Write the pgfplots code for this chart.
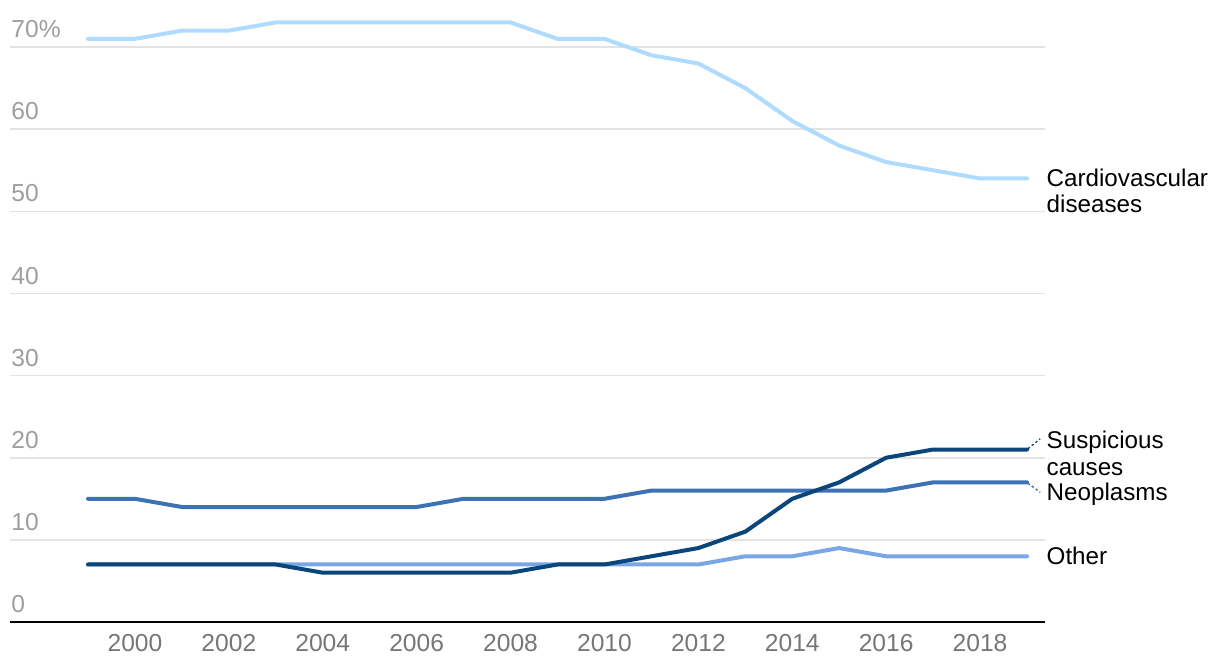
\documentclass[border=0pt]{standalone}
\usepackage{pgfplots}
\pgfplotsset{compat=1.18}
\usepackage{fontspec}
\setmainfont{Liberation Sans}
\definecolor{cardio}{HTML}{AEDBFF}
\definecolor{other}{HTML}{7AA6E6}
\definecolor{neo}{HTML}{3D72B4}
\definecolor{susp}{HTML}{0A4679}
\definecolor{ylab}{HTML}{9E9E9E}
\definecolor{xlab}{HTML}{767676}
\definecolor{gridc}{HTML}{E3E3E3}
\begin{document}
\begin{tikzpicture}
\useasboundingbox (-5pt,-25pt) rectangle (605pt,311pt);
\begin{axis}[
  at={(0,0)}, anchor=south west,
  scale only axis, width=517.5pt, height=308pt,
  xmin=1997.339, xmax=2019.383, ymin=0, ymax=75,
  clip=false,
  axis x line*=bottom, axis y line*=left,
  y axis line style={draw=none},
  x axis line style={black, line width=0.9pt, -},
  major tick length=0pt,
  ymajorgrids, grid style={gridc, line width=0.8pt},
  xtick={2000,2002,...,2018},
  xticklabels={2000,2002,2004,2006,2008,2010,2012,2014,2016,2018},
  ytick={0,10,20,30,40,50,60,70},
  yticklabels={0,10,20,30,40,50,60,70\%},
  xticklabel style={font=\fontsize{12.3}{14}\selectfont, text=xlab, anchor=north, yshift=-2.5pt},
  yticklabel style={font=\fontsize{12.3}{14}\selectfont, text=ylab, anchor=base west, inner sep=0pt, xshift=0.5pt, yshift=4.7pt},
  every axis plot/.append style={line width=2pt, line join=round, line cap=round, mark=none},
]
\addplot[cardio] coordinates {
(1999,71)(2000,71)(2001,72)(2002,72)(2003,73)(2004,73)(2005,73)(2006,73)(2007,73)(2008,73)
(2009,71)(2010,71)(2011,69)(2012,68)(2013,65)(2014,61)(2015,58)(2016,56)(2017,55)(2018,54)(2019,54)};
\addplot[other] coordinates {
(1999,7)(2000,7)(2001,7)(2002,7)(2003,7)(2004,7)(2005,7)(2006,7)(2007,7)(2008,7)
(2009,7)(2010,7)(2011,7)(2012,7)(2013,8)(2014,8)(2015,9)(2016,8)(2017,8)(2018,8)(2019,8)};
\addplot[neo] coordinates {
(1999,15)(2000,15)(2001,14)(2002,14)(2003,14)(2004,14)(2005,14)(2006,14)(2007,15)(2008,15)
(2009,15)(2010,15)(2011,16)(2012,16)(2013,16)(2014,16)(2015,16)(2016,16)(2017,17)(2018,17)(2019,17)};
\addplot[susp] coordinates {
(1999,7)(2000,7)(2001,7)(2002,7)(2003,7)(2004,6)(2005,6)(2006,6)(2007,6)(2008,6)
(2009,7)(2010,7)(2011,8)(2012,9)(2013,11)(2014,15)(2015,17)(2016,20)(2017,21)(2018,21)(2019,21)};
% leader lines
\draw[susp, line width=0.7pt, dash pattern=on 1.2pt off 1.2pt] (axis cs:2019.02,21.1) -- (axis cs:2019.28,22.3);
\draw[neo, line width=0.7pt, dash pattern=on 1.2pt off 1.2pt] (axis cs:2019.02,16.9) -- (axis cs:2019.28,15.8);
% labels
\begin{scope}[every node/.style={anchor=base west, inner sep=0pt, font=\fontsize{12.1}{14}\selectfont, text=black}]
\node at (axis cs:2019.41,53.0) {Cardiovascular};
\node at (axis cs:2019.41,49.83) {diseases};
\node at (axis cs:2019.41,21.15) {Suspicious};
\node at (axis cs:2019.41,17.78) {causes};
\node at (axis cs:2019.41,14.85) {Neoplasms};
\node at (axis cs:2019.41,7.06) {Other};
\end{scope}
\end{axis}
\end{tikzpicture}
\end{document}
